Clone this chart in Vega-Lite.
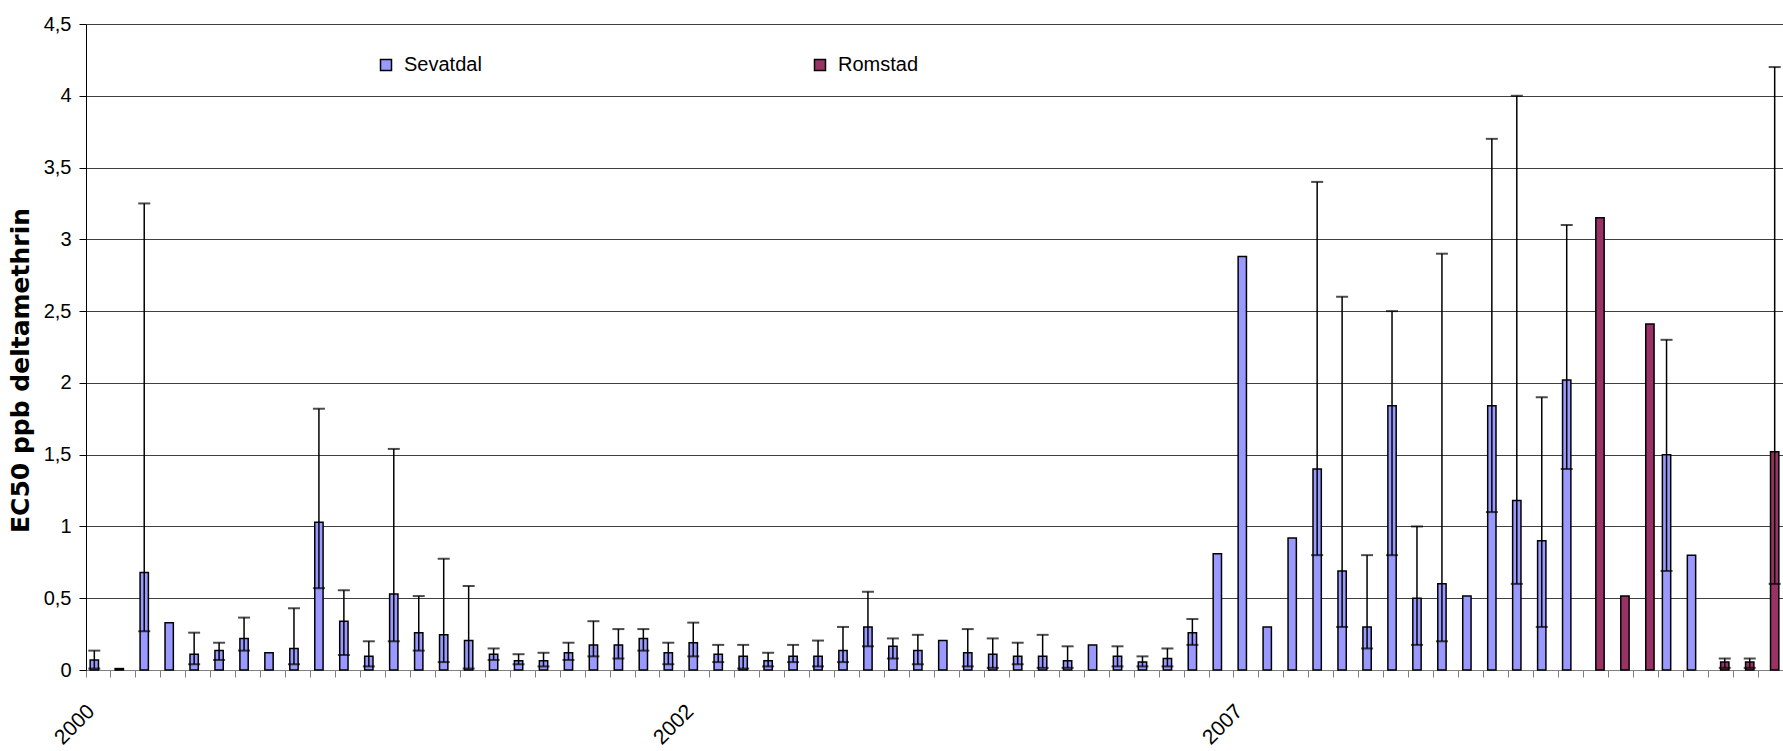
{
  "$schema": "https://vega.github.io/schema/vega-lite/v6.json",
  "width": 1697,
  "height": 646,
  "autosize": {"type": "none"},
  "padding": {"left": 86, "top": 24, "right": 0, "bottom": 81},
  "background": "white",
  "data": {"values": [
    {"cat": 0, "series": "Sevatdal", "v": 0.07, "lo": 0.01, "hi": 0.135},
    {"cat": 1, "series": "Sevatdal", "v": 0.01, "lo": null, "hi": null},
    {"cat": 2, "series": "Sevatdal", "v": 0.68, "lo": 0.27, "hi": 3.25},
    {"cat": 3, "series": "Sevatdal", "v": 0.33, "lo": null, "hi": null},
    {"cat": 4, "series": "Sevatdal", "v": 0.11, "lo": 0.04, "hi": 0.26},
    {"cat": 5, "series": "Sevatdal", "v": 0.135, "lo": 0.07, "hi": 0.19},
    {"cat": 6, "series": "Sevatdal", "v": 0.22, "lo": 0.135, "hi": 0.365},
    {"cat": 7, "series": "Sevatdal", "v": 0.12, "lo": null, "hi": null},
    {"cat": 8, "series": "Sevatdal", "v": 0.15, "lo": 0.04, "hi": 0.43},
    {"cat": 9, "series": "Sevatdal", "v": 1.03, "lo": 0.57, "hi": 1.82},
    {"cat": 10, "series": "Sevatdal", "v": 0.34, "lo": 0.105, "hi": 0.555},
    {"cat": 11, "series": "Sevatdal", "v": 0.095, "lo": 0.025, "hi": 0.2},
    {"cat": 12, "series": "Sevatdal", "v": 0.53, "lo": 0.2, "hi": 1.54},
    {"cat": 13, "series": "Sevatdal", "v": 0.26, "lo": 0.135, "hi": 0.515},
    {"cat": 14, "series": "Sevatdal", "v": 0.245, "lo": 0.055, "hi": 0.775},
    {"cat": 15, "series": "Sevatdal", "v": 0.205, "lo": 0.01, "hi": 0.585},
    {"cat": 16, "series": "Sevatdal", "v": 0.11, "lo": 0.07, "hi": 0.15},
    {"cat": 17, "series": "Sevatdal", "v": 0.065, "lo": 0.04, "hi": 0.11},
    {"cat": 18, "series": "Sevatdal", "v": 0.065, "lo": 0.025, "hi": 0.12},
    {"cat": 19, "series": "Sevatdal", "v": 0.12, "lo": 0.07, "hi": 0.19},
    {"cat": 20, "series": "Sevatdal", "v": 0.175, "lo": 0.095, "hi": 0.34},
    {"cat": 21, "series": "Sevatdal", "v": 0.175, "lo": 0.08, "hi": 0.285},
    {"cat": 22, "series": "Sevatdal", "v": 0.22, "lo": 0.135, "hi": 0.285},
    {"cat": 23, "series": "Sevatdal", "v": 0.12, "lo": 0.04, "hi": 0.19},
    {"cat": 24, "series": "Sevatdal", "v": 0.19, "lo": 0.095, "hi": 0.33},
    {"cat": 25, "series": "Sevatdal", "v": 0.11, "lo": 0.055, "hi": 0.175},
    {"cat": 26, "series": "Sevatdal", "v": 0.095, "lo": 0.01, "hi": 0.175},
    {"cat": 27, "series": "Sevatdal", "v": 0.065, "lo": 0.025, "hi": 0.12},
    {"cat": 28, "series": "Sevatdal", "v": 0.095, "lo": 0.055, "hi": 0.175},
    {"cat": 29, "series": "Sevatdal", "v": 0.095, "lo": 0.025, "hi": 0.205},
    {"cat": 30, "series": "Sevatdal", "v": 0.135, "lo": 0.055, "hi": 0.3},
    {"cat": 31, "series": "Sevatdal", "v": 0.3, "lo": 0.165, "hi": 0.545},
    {"cat": 32, "series": "Sevatdal", "v": 0.165, "lo": 0.08, "hi": 0.22},
    {"cat": 33, "series": "Sevatdal", "v": 0.135, "lo": 0.04, "hi": 0.245},
    {"cat": 34, "series": "Sevatdal", "v": 0.205, "lo": null, "hi": null},
    {"cat": 35, "series": "Sevatdal", "v": 0.12, "lo": 0.025, "hi": 0.285},
    {"cat": 36, "series": "Sevatdal", "v": 0.11, "lo": 0.015, "hi": 0.22},
    {"cat": 37, "series": "Sevatdal", "v": 0.095, "lo": 0.04, "hi": 0.19},
    {"cat": 38, "series": "Sevatdal", "v": 0.095, "lo": 0.015, "hi": 0.245},
    {"cat": 39, "series": "Sevatdal", "v": 0.065, "lo": 0.015, "hi": 0.165},
    {"cat": 40, "series": "Sevatdal", "v": 0.175, "lo": null, "hi": null},
    {"cat": 41, "series": "Sevatdal", "v": 0.095, "lo": 0.025, "hi": 0.165},
    {"cat": 42, "series": "Sevatdal", "v": 0.055, "lo": 0.025, "hi": 0.095},
    {"cat": 43, "series": "Sevatdal", "v": 0.08, "lo": 0.025, "hi": 0.15},
    {"cat": 44, "series": "Sevatdal", "v": 0.26, "lo": 0.175, "hi": 0.355},
    {"cat": 45, "series": "Sevatdal", "v": 0.81, "lo": null, "hi": null},
    {"cat": 46, "series": "Sevatdal", "v": 2.88, "lo": null, "hi": null},
    {"cat": 47, "series": "Sevatdal", "v": 0.3, "lo": null, "hi": null},
    {"cat": 48, "series": "Sevatdal", "v": 0.92, "lo": null, "hi": null},
    {"cat": 49, "series": "Sevatdal", "v": 1.4, "lo": 0.8, "hi": 3.4},
    {"cat": 50, "series": "Sevatdal", "v": 0.69, "lo": 0.3, "hi": 2.6},
    {"cat": 51, "series": "Sevatdal", "v": 0.3, "lo": 0.15, "hi": 0.8},
    {"cat": 52, "series": "Sevatdal", "v": 1.84, "lo": 0.8, "hi": 2.5},
    {"cat": 53, "series": "Sevatdal", "v": 0.5, "lo": 0.175, "hi": 1.0},
    {"cat": 54, "series": "Sevatdal", "v": 0.6, "lo": 0.2, "hi": 2.9},
    {"cat": 55, "series": "Sevatdal", "v": 0.515, "lo": null, "hi": null},
    {"cat": 56, "series": "Sevatdal", "v": 1.84, "lo": 1.1, "hi": 3.7},
    {"cat": 57, "series": "Sevatdal", "v": 1.18, "lo": 0.6, "hi": 4.0},
    {"cat": 58, "series": "Sevatdal", "v": 0.9, "lo": 0.3, "hi": 1.9},
    {"cat": 59, "series": "Sevatdal", "v": 2.02, "lo": 1.4, "hi": 3.1},
    {"cat": 60, "series": "Romstad", "v": 3.15, "lo": null, "hi": null},
    {"cat": 61, "series": "Romstad", "v": 0.515, "lo": null, "hi": null},
    {"cat": 62, "series": "Romstad", "v": 2.41, "lo": null, "hi": null},
    {"cat": 63, "series": "Sevatdal", "v": 1.5, "lo": 0.69, "hi": 2.3},
    {"cat": 64, "series": "Sevatdal", "v": 0.8, "lo": null, "hi": null},
    {"cat": 65, "series": "Romstad", "v": 0.055, "lo": 0.015, "hi": 0.08},
    {"cat": 66, "series": "Romstad", "v": 0.055, "lo": 0.015, "hi": 0.08},
    {"cat": 67, "series": "Romstad", "v": 1.52, "lo": 0.6, "hi": 4.2}
  ]},
  "encoding": {
    "x": {
      "field": "cat", "type": "ordinal",
      "scale": {"paddingInner": 0, "paddingOuter": 0},
      "axis": {
        "title": null, "bandPosition": 0, "grid": false,
        "labelAngle": -45, "labelAlign": "right", "labelBaseline": "middle",
        "labelOffset": -7, "labelPadding": 31, "tickSize": 7,
        "domainColor": "#808080", "tickColor": "#808080", "tickWidth": 1,
        "labelFont": "Liberation Sans", "labelFontSize": 21, "labelColor": "black",
        "labelOverlap": false, "labelBound": false, "labelFlush": false,
        "labelExpr": "datum.value == 0 ? '2000' : datum.value == 24 ? '2002' : datum.value == 46 ? '2007' : ''"
      }
    },
    "xOffset": {
      "field": "series", "type": "nominal",
      "scale": {"domain": ["Sevatdal", "Romstad"], "paddingOuter": 0.5, "paddingInner": 0}
    }
  },
  "layer": [
    {
      "mark": {"type": "bar", "stroke": "black", "strokeWidth": 1.5},
      "encoding": {
        "y": {
          "field": "v", "type": "quantitative",
          "title": "EC50 ppb deltamethrin",
          "scale": {"domain": [0, 4.5], "nice": false},
          "axis": {
            "values": [0, 0.5, 1, 1.5, 2, 2.5, 3, 3.5, 4, 4.5],
            "titleY": 346,
            "titleFont": "DejaVu Sans",
            "titleFontSize": 25,
            "titlePadding": 10
          }
        },
        "color": {
          "field": "series", "type": "nominal",
          "scale": {"domain": ["Sevatdal", "Romstad"], "range": ["#9999FF", "#993366"]},
          "legend": {
            "title": null, "orient": "none", "legendX": 290, "legendY": 31,
            "direction": "horizontal", "symbolType": "square", "symbolSize": 121,
            "symbolStrokeColor": "black", "symbolStrokeWidth": 1.5, "symbolOpacity": 1,
            "labelFont": "Liberation Sans", "labelFontSize": 20, "labelColor": "black",
            "labelOffset": 8, "columnPadding": 328
          }
        }
      }
    },
    {
      "transform": [{"filter": "isValid(datum.lo)"}],
      "mark": {"type": "rule", "color": "black", "strokeWidth": 1.5},
      "encoding": {
        "y": {"field": "lo", "type": "quantitative", "title": "EC50 ppb deltamethrin"},
        "y2": {"field": "hi"}
      }
    },
    {
      "transform": [{"filter": "isValid(datum.lo)"}],
      "mark": {"type": "tick", "color": "black", "thickness": 2, "size": 12, "orient": "horizontal"},
      "encoding": {
        "y": {"field": "lo", "type": "quantitative", "title": "EC50 ppb deltamethrin"}
      }
    },
    {
      "transform": [{"filter": "isValid(datum.hi)"}],
      "mark": {"type": "tick", "color": "black", "thickness": 2, "size": 12, "orient": "horizontal"},
      "encoding": {
        "y": {"field": "hi", "type": "quantitative", "title": "EC50 ppb deltamethrin"}
      }
    }
  ],
  "config": {
    "view": {"stroke": null},
    "font": "Liberation Sans",
    "axisY": {
      "titleFontWeight": "bold",
      "titleColor": "black",
      "labelExpr": "replace(format(datum.value, '~g'), '.', ',')",
      "labelFont": "Liberation Sans", "labelFontSize": 20, "labelColor": "black",
      "labelPadding": 8, "tickSize": 7, "tickColor": "black", "domainColor": "black",
      "grid": true, "gridColor": "#404040", "gridWidth": 1
    }
  }
}
